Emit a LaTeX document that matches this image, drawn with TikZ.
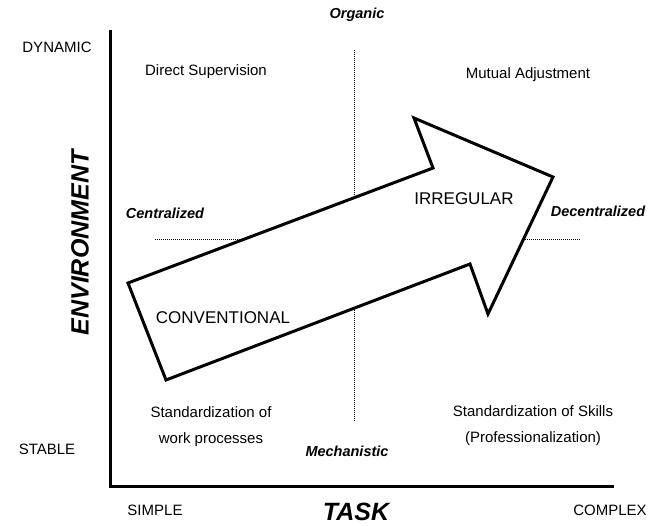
\documentclass[tikz,border=0pt]{standalone}
\usepackage{fontspec}
\setmainfont{Liberation Sans}
\begin{document}
\begin{tikzpicture}[x=1pt,y=-1pt,
  lbl/.style={inner sep=0pt, font=\fontsize{15}{18}\selectfont},
  axlbl/.style={inner sep=0pt, font=\fontsize{15}{18}\selectfont},
  ital/.style={inner sep=0pt, font=\fontsize{14.5}{17}\selectfont\bfseries\itshape},
  big/.style={inner sep=0pt, font=\fontsize{25}{30}\selectfont\bfseries\itshape},
  mid/.style={inner sep=0pt, font=\fontsize{17}{20}\selectfont},
  dots/.style={densely dotted, line width=1pt},
  axisline/.style={line width=3pt},
  bigarrow/.style={line width=3pt, fill=white, line join=miter}]
\useasboundingbox (0,0) rectangle (649,526);
% axes
\coordinate (ytop) at (110,30);
\coordinate (orig) at (110,487);
\coordinate (xend) at (614,487);
\draw[axisline] (ytop) -- (orig) -- (xend);
% dotted quadrant lines
\coordinate (v1) at (354,50);
\coordinate (v2) at (354,422);
\coordinate (h1) at (155,240);
\coordinate (h2) at (580,240);
\draw[dots] (v1) -- (v2);
\draw[dots] (h1) -- (h2);
% big arrow
\coordinate (a1) at (128,283);
\coordinate (a2) at (433,168);
\coordinate (a3) at (414,118);
\coordinate (a4) at (553,177);
\coordinate (a5) at (488,314);
\coordinate (a6) at (470,264);
\coordinate (a7) at (166,380);
\draw[bigarrow] (a1) -- (a2) -- (a3) -- (a4) -- (a5) -- (a6) -- (a7) -- cycle;
% labels
\node[ital] (organic) at (357,15) {Organic};
\node[ital] (mech) at (347,451) {Mechanistic};
\node[ital] (cent) at (165,213) {Centralized};
\node[ital] (decent) at (598,211) {Decentralized};
\node[axlbl] (dyn) at (57,47) {DYNAMIC};
\node[axlbl] (stable) at (47,449) {STABLE};
\node[axlbl] (simple) at (155,510) {SIMPLE};
\node[axlbl] (complex) at (610,510) {COMPLEX};
\node[big] (task) at (356,512) {TASK};
\node[big, rotate=90] (env) at (80,243) {ENVIRONMENT};
\node[lbl] (ds) at (206,72) {Direct Supervision};
\node[lbl] (ma) at (528,75) {Mutual Adjustment};
\node[mid] (irr) at (464,199) {IRREGULAR};
\node[mid] (conv) at (223,318) {CONVENTIONAL};
\node[lbl] (swp1) at (211,412) {Standardization of};
\node[lbl] (swp2) at (211,440) {work processes};
\node[lbl] (ss1) at (533,411) {Standardization of Skills};
\node[lbl] (ss2) at (533,439) {(Professionalization)};
\end{tikzpicture}
\end{document}
